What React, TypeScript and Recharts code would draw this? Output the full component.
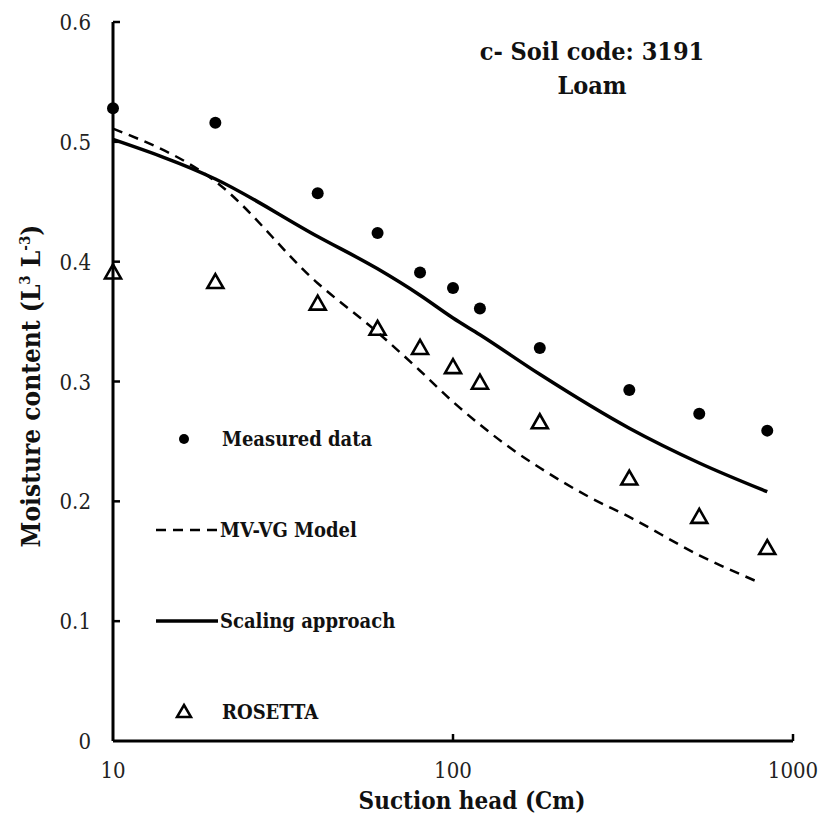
import React from "react";
import { ComposedChart, Line, Scatter, XAxis, YAxis, Legend } from "recharts";

// suction head (cm) and moisture content
const suctionHead = [10, 20, 40, 60, 80, 100, 120, 180, 330, 530, 840];
const measured = [0.528, 0.516, 0.457, 0.424, 0.391, 0.378, 0.361, 0.328, 0.293, 0.273, 0.259];
const rosetta = [0.391, 0.383, 0.365, 0.344, 0.328, 0.312, 0.299, 0.266, 0.219, 0.187, 0.161];
const scaling = [0.502, 0.469, 0.421, 0.394, 0.372, 0.353, 0.339, 0.306, 0.261, 0.232, 0.208];
const mvvgHead = [10, 20, 40, 60, 80, 100, 120, 150, 180, 250, 330, 530, 800];
const mvvg = [0.511, 0.467, 0.382, 0.341, 0.309, 0.283, 0.264, 0.243, 0.228, 0.204, 0.187, 0.155, 0.132];

const xTicks = [10, 100, 1000];
const yTicks = [0, 0.1, 0.2, 0.3, 0.4, 0.5, 0.6];

const serif = "'DejaVu Serif Condensed', 'DejaVu Serif', serif";

const toRows = (xs: number[], ys: number[]) => xs.map((h, i) => ({ h, v: ys[i] }));

const measuredRows = toRows(suctionHead, measured);
const rosettaRows = toRows(suctionHead, rosetta);
const scalingRows = toRows(suctionHead, scaling);
const mvvgRows = toRows(mvvgHead, mvvg);

const XTick = (props: any) => {
  const { x, y, payload } = props;
  return (
    <g>
      {payload.value !== 10 && (
        <line x1={x} y1={y} x2={x} y2={y - 7} stroke="#000" strokeWidth={2.5} />
      )}
      <text x={x} y={y + 37} textAnchor="middle" fontSize={22} fontFamily={serif} fill="#222">
        {payload.value}
      </text>
    </g>
  );
};

const YTick = (props: any) => {
  const { x, y, payload } = props;
  return (
    <g>
      {payload.value !== 0 && (
        <line x1={x} y1={y} x2={x + 7} y2={y} stroke="#000" strokeWidth={2.5} />
      )}
      <text x={x - 22} y={y + 8} textAnchor="end" fontSize={22} fontFamily={serif} fill="#222">
        {payload.value}
      </text>
    </g>
  );
};

const Dot = (props: any) => {
  const { cx, cy } = props;
  return <circle cx={cx} cy={cy} r={6} fill="#000" />;
};

const Triangle = (props: any) => {
  const { cx, cy } = props;
  return (
    <path
      d={`M${cx},${cy - 8} L${cx + 8},${cy + 6} L${cx - 8},${cy + 6} Z`}
      fill="none"
      stroke="#000"
      strokeWidth={2.6}
    />
  );
};

const legendItems = [
  { name: "Measured data", kind: "dot" },
  { name: "MV-VG Model", kind: "dash" },
  { name: "Scaling approach", kind: "solid" },
  { name: "ROSETTA", kind: "tri" },
];

const LegendBox = () => (
  <div style={{ fontFamily: serif, fontWeight: "bold", fontSize: 20, color: "#111" }}>
    {legendItems.map((it) => (
      <div key={it.name} style={{ display: "flex", alignItems: "center", height: 91 }}>
        <svg width={64} height={20} style={{ marginRight: it.kind === "dot" || it.kind === "tri" ? 2 : 0 }}>
          {it.kind === "dot" && <circle cx={28} cy={10} r={5} fill="#000" />}
          {it.kind === "tri" && (
            <path d="M28,3 L35,15 L21,15 Z" fill="none" stroke="#000" strokeWidth={2.5} />
          )}
          {it.kind === "dash" && (
            <line x1={0} y1={10} x2={62} y2={10} stroke="#000" strokeWidth={2.5} strokeDasharray="10 7" />
          )}
          {it.kind === "solid" && <line x1={0} y1={10} x2={62} y2={10} stroke="#000" strokeWidth={3.5} />}
        </svg>
        <span>{it.name}</span>
      </div>
    ))}
  </div>
);

export default function App() {
  return (
    <div style={{ position: "absolute", left: 0, top: 0, width: 823, height: 818, background: "#fff" }}>
      <ComposedChart width={823} height={818} margin={{ top: 22, right: 30, bottom: 0, left: 0 }}>
        <XAxis
          dataKey="h"
          type="number"
          scale="log"
          domain={[10, 1000]}
          ticks={xTicks}
          height={77}
          tickSize={0}
          tickMargin={0}
          tickLine={false}
          tick={<XTick />}
          axisLine={{ stroke: "#000", strokeWidth: 3 }}
          label={{
            content: () => (
              <text x={472} y={809} textAnchor="middle" fontSize={24} fontWeight="bold" fontFamily={serif} fill="#111">
                Suction head (Cm)
              </text>
            ),
          }}
        />
        <YAxis
          dataKey="v"
          type="number"
          domain={[0, 0.6]}
          ticks={yTicks}
          width={113}
          tickSize={0}
          tickMargin={0}
          tickLine={false}
          tick={<YTick />}
          axisLine={{ stroke: "#000", strokeWidth: 3 }}
          label={{
            content: () => (
              <text
                transform="translate(40,386) rotate(-90)"
                textAnchor="middle"
                fontSize={26}
                fontWeight="bold"
                fontFamily={serif}
                fill="#111"
              >
                Moisture content (L
                <tspan dy={-10} fontSize={15}>3</tspan>
                <tspan dy={10}> L</tspan>
                <tspan dy={-10} fontSize={15}>-3</tspan>
                <tspan dy={10}>)</tspan>
              </text>
            ),
          }}
        />
        <Legend
          layout="vertical"
          align="center"
          verticalAlign="middle"
          content={<LegendBox />}
          wrapperStyle={{ left: 156, top: 393, width: 320 }}
        />
        <Line
          data={mvvgRows}
          dataKey="v"
          name="MV-VG Model"
          type="monotone"
          stroke="#000"
          strokeWidth={2.5}
          strokeDasharray="10 7"
          dot={false}
          isAnimationActive={false}
        />
        <Line
          data={scalingRows}
          dataKey="v"
          name="Scaling approach"
          type="monotone"
          stroke="#000"
          strokeWidth={3.5}
          dot={false}
          isAnimationActive={false}
        />
        <Scatter data={measuredRows} dataKey="v" name="Measured data" shape={<Dot />} isAnimationActive={false} />
        <Scatter data={rosettaRows} dataKey="v" name="ROSETTA" shape={<Triangle />} isAnimationActive={false} />
      </ComposedChart>
      <div
        style={{
          position: "absolute",
          left: 462,
          top: 35,
          width: 260,
          textAlign: "center",
          fontFamily: serif,
          fontWeight: "bold",
          fontSize: 25,
          lineHeight: "34px",
          color: "#111",
        }}
      >
        <div>c- Soil code: 3191</div>
        <div>Loam</div>
      </div>
    </div>
  );
}
